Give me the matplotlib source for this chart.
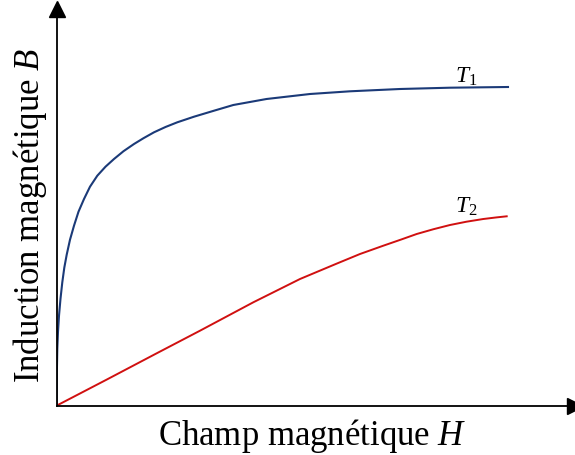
import matplotlib
matplotlib.use("Agg")
import matplotlib.pyplot as plt

plt.rcParams['font.family'] = ['Liberation Serif', 'DejaVu Serif']
plt.rcParams['mathtext.fontset'] = 'custom'
plt.rcParams['mathtext.rm'] = 'Liberation Serif'
plt.rcParams['mathtext.it'] = 'Liberation Serif:italic'

# valeurs (unités arbitraires)
h_t1 = [0, 0.2, 0.45, 0.8, 1.5, 2.5, 4, 5.8, 7.8, 10.2, 13.5, 17.5, 22, 27.5, 33.5, 40.8,
        49, 57.5, 67, 77.5, 87, 97.5, 109, 120.8, 137.5, 157.5, 176.8, 210, 253.5, 293.5,
        343.5, 393.5, 451.5]
b_t1 = [0, 20, 38, 57, 74, 90, 107, 123.4, 138, 151, 166, 180, 194, 206.7, 219, 230,
        239, 246.7, 254.5, 261.7, 267.5, 273.4, 278.7, 283.4, 289, 295, 300.7, 306.7, 311.7,
        314.4, 316.7, 318, 318.7]

h_t2 = [0, 50, 100, 143.5, 196.8, 243.5, 280, 303.5, 326.8, 345, 360.2, 377, 393.5, 410,
        426.8, 440, 450.2]
b_t2 = [0, 26, 52.3, 75, 103.4, 126.7, 142, 151.7, 160, 166.3, 171.7, 176.5, 180.7, 184,
        186.7, 188.3, 189.4]

fig = plt.figure(figsize=(5.75, 4.56), dpi=100)
ax = fig.add_axes([56.5 / 575, 49.3 / 456, 518.5 / 575, 396.7 / 456])

ax.plot(h_t1, b_t1, color='#1b3a78', lw=1.5, solid_joinstyle='round')
ax.plot(h_t2, b_t2, color='#d01010', lw=1.4, solid_joinstyle='round')

ax.set_xlim(0, 518.5)
ax.set_ylim(0, 396.7)
ax.set_xticks([])
ax.set_yticks([])
for s in ['top', 'right']:
    ax.spines[s].set_visible(False)
for s in ['left', 'bottom']:
    ax.spines[s].set_linewidth(1.3)

# flèches des axes
ax.plot([0], [1], marker='^', markersize=11, color='black', transform=ax.transAxes, clip_on=False)
ax.plot([1], [0], marker='>', markersize=11, color='black', transform=ax.transAxes, clip_on=False)

ax.text(410, 330, r'$T_1$', fontsize=17, ha='center', va='center')
ax.text(410, 200, r'$T_2$', fontsize=17, ha='center', va='center')

fig.text(312 / 575, 1 - 436 / 456, r'Champ magnétique $H$', fontsize=25, ha='center', va='center')
fig.text(30 / 575, 1 - 215 / 456, r'Induction magnétique $B$', fontsize=25, ha='center',
         va='center', rotation=90)

fig.savefig('out.png', dpi=100)
